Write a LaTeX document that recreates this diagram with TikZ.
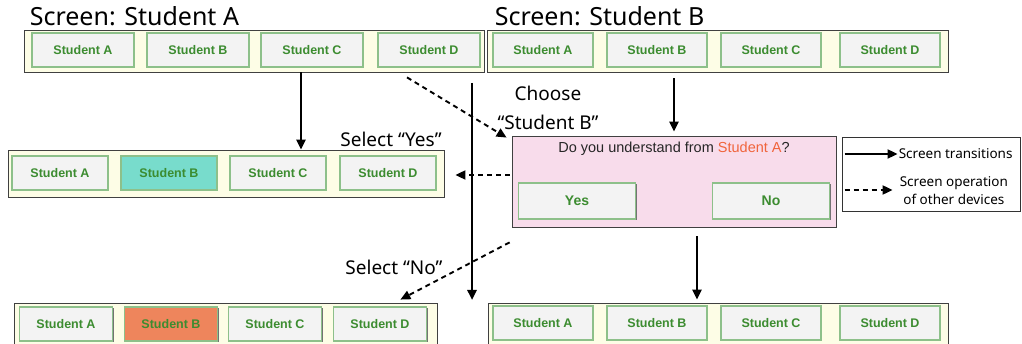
\documentclass[tikz,border=0pt]{standalone}
\usepackage{fontspec}
\setmainfont{Noto Sans}
\newfontfamily\btnfont{Liberation Sans}
\usetikzlibrary{arrows.meta,positioning,calc,shadows}
\definecolor{barfill}{RGB}{253,253,230}
\definecolor{btnfill}{RGB}{243,243,243}
\definecolor{btnedge}{RGB}{141,192,138}
\definecolor{btntext}{RGB}{60,140,48}
\definecolor{yesfill}{RGB}{120,220,204}
\definecolor{nofill}{RGB}{238,133,92}
\definecolor{dlgfill}{RGB}{248,220,235}
\definecolor{alert}{RGB}{240,100,60}
\tikzstyle{bar}=[draw=black!75, fill=barfill, line width=0.8pt, inner sep=0pt]
\tikzstyle{btn}=[draw=btnedge, fill=btnfill, line width=1.8pt, minimum height=34pt, inner sep=0pt, text=btntext, font=\btnfont\bfseries\fontsize{12.5}{14}\selectfont, drop shadow={shadow xshift=1.3pt, shadow yshift=-1.3pt, fill=black!55, opacity=1}]
\tikzstyle{lab}=[font=\fontsize{19}{29}\selectfont, inner sep=0pt, align=center]
\tikzstyle{title}=[font=\fontsize{25}{30}\selectfont, inner sep=0pt]
\tikzstyle{key}=[font=\fontsize{13.5}{18}\selectfont, inner sep=1pt, align=center]
\tikzstyle{trans}=[-{Triangle[length=10pt,width=9pt]}, line width=2.4pt]
\tikzstyle{oper}=[trans, dash pattern=on 5pt off 4pt, line width=1.9pt]
\newcommand{\studentRow}[8]{
	\node[btn, minimum width=#7] (#1a) at (#2,#6) {Student A};
	\node[btn, minimum width=#7, #8] (#1b) at (#3,#6) {Student B};
	\node[btn, minimum width=#7] (#1c) at (#4,#6) {Student C};
	\node[btn, minimum width=#7] (#1d) at (#5,#6) {Student D};
}

\begin{document}
\begin{tikzpicture}[x=1pt, y=-1pt]
	\useasboundingbox (0,0) rectangle (1022,344);
	%
	\node[bar, minimum width=460pt, minimum height=42pt] (scrA) at (254,51) {};
	\studentRow{scrA}{83}{198}{312}{429}{50}{102pt}{}
	\node[bar, minimum width=461pt, minimum height=42pt] (scrB) at (717.5,51) {};
	\studentRow{scrB}{543}{657}{771}{890}{50}{100pt}{}
	\node[title, above right=4pt and 6pt of scrA.north west] (titleA) {Screen: Student A};
	\node[title, above right=4pt and 8pt of scrB.north west] (titleB) {Screen: Student B};
	%
	\node[bar, minimum width=436pt, minimum height=47pt] (mid) at (226,173.5) {};
	\studentRow{mid}{60}{169}{278}{388}{173}{96pt}{fill=yesfill}
	\node[bar, minimum width=423pt, minimum height=47pt] (botA) at (225.5,326.5) {};
	\studentRow{botA}{66}{171}{275}{380}{324}{93pt}{fill=nofill}
	\node[bar, minimum width=460pt, minimum height=47pt] (botB) at (718,326.5) {};
	\studentRow{botB}{543}{657}{771}{890}{323}{100pt}{}
	%
	\node[draw=black!75, fill=dlgfill, line width=0.8pt, minimum width=324pt, minimum height=91pt, inner sep=0pt] (dlg) at (674,181.5) {};
	\node[font=\btnfont\fontsize{14.5}{17}\selectfont, text=black!85] (question) at (674,149) {Do you understand from \textcolor{alert}{Student A}?};
	\node[btn, minimum width=117pt, minimum height=36pt, font=\btnfont\bfseries\fontsize{14}{16}\selectfont] (yes) at (577,201) {Yes};
	\node[btn, minimum width=117pt, minimum height=36pt, font=\btnfont\bfseries\fontsize{14}{16}\selectfont] (no) at (771,201) {No};
	%
	\node[lab] (choose) at (548,108) {Choose\\“Student B”};
	\node[lab] (selYes) at (391,139) {Select “Yes”};
	\node[lab] (selNo) at (394,267) {Select “No”};
	%
	\draw[trans] ([xshift=47pt]scrA.south) -- ([xshift=75pt]mid.north);
	\draw[trans, shorten <=6pt, shorten >=4pt] (scrB.south -| dlg.north) -- (dlg.north);
	\coordinate (vtop) at (472,83);
	\coordinate (vbot) at (472,300);
	\draw[trans] (vtop) -- (vbot);
	\draw[trans, shorten <=9pt, shorten >=3pt] ([xshift=23pt]dlg.south) -- ([xshift=23pt]dlg.south |- botB.north);
	%
	\draw[oper] ([xshift=-22pt,yshift=-9.5pt]scrAd.south) -- ([xshift=-5pt,yshift=-2pt]dlg.north west);
	\draw[oper, shorten <=2pt, shorten >=11pt] ([yshift=-1.5pt]dlg.west |- mid.east) -- ([yshift=-1.5pt]mid.east);
	\draw[oper] ([xshift=-2pt,yshift=-15pt]dlg.south west) -- ([xshift=-37pt,yshift=3pt]botA.north east);
	%
	\node[draw=black!80, line width=0.8pt, minimum width=178pt, minimum height=74pt, inner sep=0pt] (legend) at (931,174) {};
	\coordinate (k1s) at ([xshift=3pt,yshift=20pt]legend.west);
	\coordinate (k1e) at ([xshift=56pt,yshift=20pt]legend.west);
	\coordinate (k2s) at ([xshift=3pt,yshift=-16pt]legend.west);
	\coordinate (k2e) at ([xshift=51pt,yshift=-16pt]legend.west);
	\draw[trans, line width=1.8pt] (k1s) -- (k1e);
	\draw[oper] (k2s) -- (k2e);
	\node[key, right=0pt of k1e] (keyTrans) {Screen transitions};
	\node[key, right=6pt of k2e, yshift=-1pt] (keyOper) {Screen operation\\of other devices};
\end{tikzpicture}
\end{document}
